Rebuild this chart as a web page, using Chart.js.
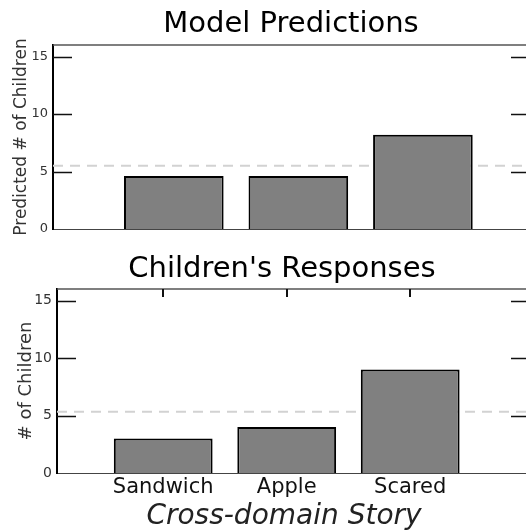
<!DOCTYPE html>
<html>
<head>
<meta charset="utf-8">
<script src="https://cdn.jsdelivr.net/npm/chart.js@4"></script>
<style>
  body { margin: 0; width: 526px; height: 531px; overflow: hidden; background: #fff; position: relative; }
  canvas { position: absolute; left: 0; }
  #model-chart { top: 0; }
  #children-chart { top: 250px; }
</style>
</head>
<body>
<canvas id="model-chart" width="531" height="250"></canvas>
<canvas id="children-chart" width="531" height="281"></canvas>
<script>
// story categories and where they sit on the x scale
const stories = ['Sandwich', 'Apple', 'Scared'];
const storyPositions = [1, 2, 3];

// bar heights
const modelPredictions = [4.6, 4.6, 8.2];
const childrenResponses = [3, 4, 9];

// dashed chance level in each panel
const modelChance = 5.5;
const childrenChance = 5.33;

const yTicks = [0, 5, 10, 15];

const FONT = 'DejaVu Sans';

// dashed chance line, box edges and inward tick marks
const frame = {
  id: 'frame',
  beforeDatasetsDraw(chart, args, opts) {
    const { ctx, chartArea: a, scales: { y } } = chart;
    const cy = y.getPixelForValue(opts.chance);
    ctx.save();
    ctx.strokeStyle = '#d2d2d2';
    ctx.lineWidth = 2;
    ctx.setLineDash([10, 7]);
    ctx.beginPath();
    ctx.moveTo(a.left, cy);
    ctx.lineTo(a.right, cy);
    ctx.stroke();
    ctx.restore();
  },
  afterDatasetsDraw(chart, args, opts) {
    const { ctx, chartArea: a, scales: { x, y } } = chart;
    ctx.save();
    ctx.strokeStyle = '#555';
    ctx.lineWidth = 1.5;
    ctx.beginPath();
    ctx.moveTo(a.left, a.top);
    ctx.lineTo(a.right, a.top);
    ctx.stroke();

    ctx.strokeStyle = '#111';
    ctx.lineWidth = 1.5;
    y.ticks.forEach(t => {
      if (t.value === 0) return;
      const py = Math.round(y.getPixelForValue(t.value)) + 0.5;
      ctx.beginPath();
      ctx.moveTo(a.left, py);
      ctx.lineTo(a.left + 19, py);
      ctx.moveTo(a.right - 19, py);
      ctx.lineTo(a.right, py);
      ctx.stroke();
    });
    if (opts.topTicks) {
      ctx.lineWidth = 2;
      x.ticks.forEach(t => {
        const px = Math.round(x.getPixelForValue(t.value));
        ctx.beginPath();
        ctx.moveTo(px, a.top);
        ctx.lineTo(px, a.top + 8);
        ctx.stroke();
      });
    }
    ctx.restore();
  }
};

// panel heading and free-standing axis caption
const caption = {
  id: 'caption',
  afterDraw(chart, args, opts) {
    const ctx = chart.ctx;
    ctx.save();
    ctx.textAlign = 'center';
    ctx.textBaseline = 'alphabetic';
    opts.items.forEach(it => {
      ctx.font = (it.style || '') + ' ' + it.size + 'px "' + FONT + '"';
      ctx.fillStyle = it.color || '#000';
      ctx.fillText(it.text, it.x, it.y);
    });
    ctx.restore();
  }
};

function panel(canvasId, values, chance, opts) {
  return new Chart(document.getElementById(canvasId).getContext('2d'), {
    type: 'bar',
    data: {
      datasets: [{
        data: storyPositions.map((p, i) => ({ x: p, y: values[i] })),
        backgroundColor: '#808080',
        borderColor: '#000',
        borderWidth: 2,
        barPercentage: 0.8,
        categoryPercentage: 1
      }]
    },
    options: {
      responsive: false,
      animation: false,
      devicePixelRatio: 1,
      layout: { padding: { top: opts.padTop, bottom: opts.padBottom, left: 0, right: 1 } },
      plugins: {
        legend: { display: false },
        tooltip: { enabled: false },
        frame: { chance: chance, topTicks: opts.topTicks },
        caption: { items: opts.captions }
      },
      scales: {
        x: {
          type: 'linear',
          offset: false,
          min: opts.xMin,
          max: opts.xMax,
          afterBuildTicks: ax => { ax.ticks = storyPositions.map(v => ({ value: v })); },
          afterFit: ax => { ax.height = opts.xHeight; },
          grid: { display: false, drawTicks: false, offset: false },
          border: { display: true, color: '#444', width: 1 },
          ticks: {
            display: opts.showLabels,
            padding: 2,
            color: '#111',
            font: { family: FONT, size: 21 },
            callback: v => stories[storyPositions.indexOf(v)]
          }
        },
        y: {
          min: 0,
          max: 16,
          afterBuildTicks: ax => { ax.ticks = yTicks.map(v => ({ value: v })); },
          afterFit: ax => { ax.width = opts.yWidth; },
          grid: { display: false, drawTicks: false },
          border: { display: true, color: '#000', width: 2 },
          ticks: { padding: 5, color: '#333', font: { family: FONT, size: opts.tickSize } },
          title: {
            display: true,
            text: opts.yTitle,
            color: '#333',
            padding: { top: opts.yTitlePad, bottom: 0 },
            font: { family: FONT, size: opts.yTitleSize }
          }
        }
      }
    },
    plugins: [frame, caption]
  });
}

panel('model-chart', modelPredictions, modelChance, {
  padTop: 45, padBottom: 21, xHeight: 0, xMin: 0.03, xMax: 3.86,
  yWidth: 53, tickSize: 13, yTitle: 'Predicted # of Children', yTitleSize: 17, yTitlePad: 11,
  showLabels: false, topTicks: false,
  captions: [{ text: 'Model Predictions', x: 291, y: 32, size: 29 }]
});

panel('children-chart', childrenResponses, childrenChance, {
  padTop: 39, padBottom: 0, xHeight: 58, xMin: 0.14, xMax: 3.97,
  yWidth: 57, tickSize: 14, yTitle: '# of Children', yTitleSize: 18, yTitlePad: 16,
  showLabels: true, topTicks: true,
  captions: [
    { text: "Children's Responses", x: 282, y: 27, size: 29 },
    { text: 'Cross-domain Story', x: 284, y: 274, size: 28, style: 'italic', color: '#222' }
  ]
});
</script>
</body>
</html>
